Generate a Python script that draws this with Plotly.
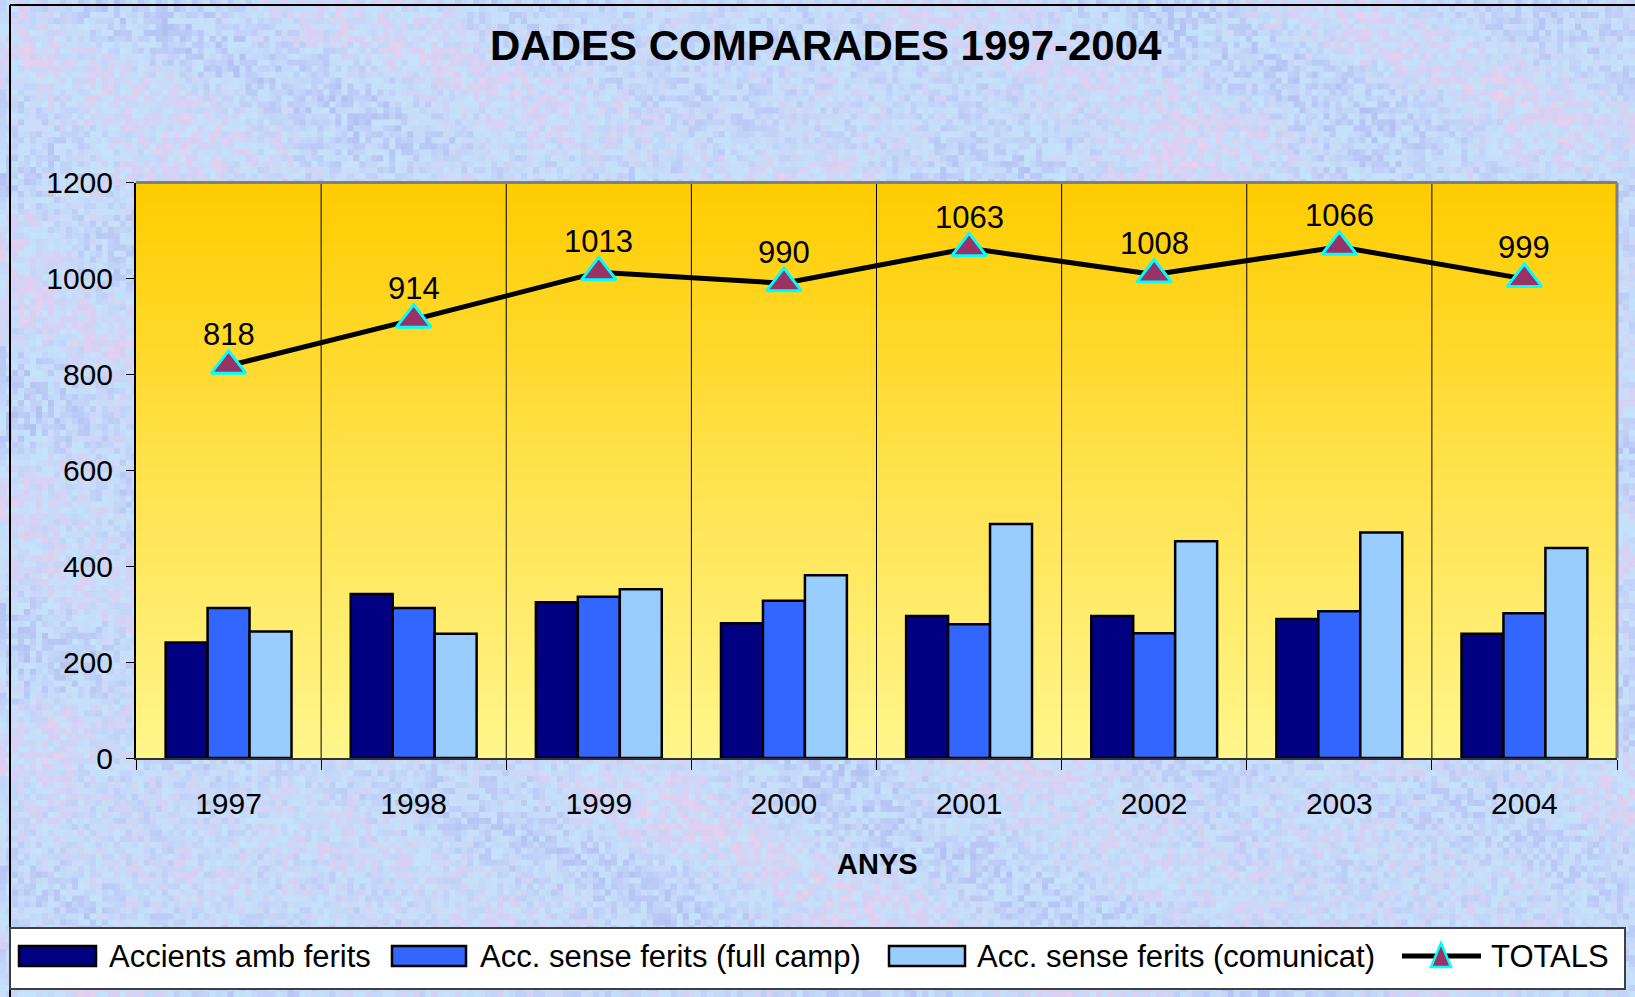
import base64
import struct
import zlib

import numpy as np
import plotly.graph_objects as go

# data
years = ["1997", "1998", "1999", "2000", "2001", "2002", "2003", "2004"]
amb_ferits = [241, 342, 325, 281, 296, 296, 290, 259]
sense_full_camp = [313, 313, 336, 328, 279, 260, 306, 302]
sense_comunicat = [264, 259, 352, 381, 488, 452, 470, 438]
totals = [818, 914, 1013, 990, 1063, 1008, 1066, 999]
y_ticks = [0, 200, 400, 600, 800, 1000, 1200]

series_names = ["Accients amb ferits", "Acc. sense ferits (full camp)",
                "Acc. sense ferits (comunicat)", "TOTALS"]
bar_colors = ["#000080", "#3366FF", "#99CCFF"]

W, H = 1635, 997
FONT = "Liberation Sans, Arial, sans-serif"
Y_MAX = 1200

# plot area in window pixels
PL, PR, PT, PB = 136, 1617, 182.5, 758


def px(x):
    return x / W


def py(y):
    return 1 - y / H


def hex_rgb(c):
    return [int(c[i:i + 2], 16) for i in (1, 3, 5)]


def palette(values, stops):
    # map values in [0, 1] to rgb through colour stops
    pts = [s for s, _ in stops]
    out = np.zeros(values.shape + (3,), dtype=np.uint8)
    for ch in range(3):
        out[..., ch] = np.interp(values, pts, [hex_rgb(c)[ch] for _, c in stops]).round()
    return out


def png_uri(rgb):
    h, w, _ = rgb.shape
    raw = b"".join(b"\x00" + rgb[r].tobytes() for r in range(h))

    def chunk(tag, data):
        return (struct.pack(">I", len(data)) + tag + data
                + struct.pack(">I", zlib.crc32(tag + data) & 0xffffffff))

    png = (b"\x89PNG\r\n\x1a\n"
           + chunk(b"IHDR", struct.pack(">IIBBBBB", w, h, 8, 2, 0, 0, 0))
           + chunk(b"IDAT", zlib.compress(raw, 9))
           + chunk(b"IEND", b""))
    return "data:image/png;base64," + base64.b64encode(png).decode()


pos = list(range(len(years)))

# textured paper background (decoration only)
cell = 6
nx, ny = 273, 167
ii, jj = np.meshgrid(np.arange(nx), np.arange(ny))
grain = ((ii * 73856093) ^ (jj * 19349663)) % 1009 / 1008
blotch = 0.5 + 0.25 * np.sin(ii / 9.0 + 2 * np.cos(jj / 7.0)) + 0.25 * np.sin(jj / 6.0 - ii / 13.0)
texture = 0.6 * grain + 0.4 * blotch
tex_rgb = palette(texture, [(0, "#B2C0F2"), (0.3, "#C2D2F8"), (0.55, "#C4E4FB"),
                            (0.78, "#D6D0F4"), (1, "#EAD0EE")])
tex_rgb = np.repeat(np.repeat(tex_rgb, cell, axis=0), cell, axis=1)

# plot area gradient, top to bottom
grad = palette(np.linspace(0, 1, 200).reshape(200, 1),
               [(0, "#FFCC00"), (0.5, "#FFE24C"), (1, "#FFF68C")])

fig = go.Figure()

for name, vals, col in zip(series_names[:3], [amb_ferits, sense_full_camp, sense_comunicat], bar_colors):
    fig.add_trace(go.Bar(
        x=pos, y=vals, name=name,
        marker=dict(color=col, line=dict(color="black", width=2.5)),
        showlegend=False,
    ))

fig.add_trace(go.Scatter(
    x=pos, y=totals, name=series_names[3],
    mode="lines+markers",
    line=dict(color="black", width=5),
    marker=dict(symbol="triangle-up", size=30, color="#993366",
                line=dict(color="#00FFFF", width=3)),
    showlegend=False,
))

images = [
    dict(source=png_uri(tex_rgb), xref="paper", yref="paper", x=0, y=1,
         sizex=1, sizey=1, xanchor="left", yanchor="top", sizing="stretch", layer="below"),
    dict(source=png_uri(grad), xref="paper", yref="paper", x=px(PL), y=py(PT),
         sizex=(PR - PL) / W, sizey=(PB - PT) / H, xanchor="left", yanchor="top",
         sizing="stretch", layer="below"),
]

shapes = []
# category separators
for k in range(len(years) - 1):
    shapes.append(dict(type="line", xref="x", yref="y domain", x0=k + 0.5, x1=k + 0.5,
                       y0=0, y1=1, line=dict(color="black", width=1), layer="above"))
# plot border top/right
shapes.append(dict(type="line", xref="paper", yref="paper", x0=px(PL), x1=px(PR),
                   y0=py(PT), y1=py(PT), line=dict(color="#808080", width=3)))
shapes.append(dict(type="line", xref="paper", yref="paper", x0=px(PR), x1=px(PR),
                   y0=py(PT), y1=py(PB), line=dict(color="#808080", width=3)))
# outer frame
shapes.append(dict(type="line", xref="paper", yref="paper", x0=px(10), x1=px(10),
                   y0=0, y1=py(5), line=dict(color="black", width=2)))
shapes.append(dict(type="line", xref="paper", yref="paper", x0=px(10), x1=1,
                   y0=py(5), y1=py(5), line=dict(color="black", width=2)))
# legend box
shapes.append(dict(type="rect", xref="paper", yref="paper", x0=px(10), x1=px(1625),
                   y0=py(989), y1=py(928), fillcolor="white",
                   line=dict(color="#404040", width=2), layer="above"))
legend_rects = [(19, 96), (392, 466), (889, 965)]
for (a, b), col in zip(legend_rects, bar_colors):
    shapes.append(dict(type="rect", xref="paper", yref="paper", x0=px(a), x1=px(b),
                       y0=py(966), y1=py(946), fillcolor=col,
                       line=dict(color="black", width=2.5), layer="above"))
shapes.append(dict(type="line", xref="paper", yref="paper", x0=px(1402), x1=px(1481),
                   y0=py(956), y1=py(956), line=dict(color="black", width=5), layer="above"))
shapes.append(dict(type="path", xref="paper", yref="paper", xsizemode="pixel", ysizemode="pixel",
                   xanchor=px(1441), yanchor=py(956), path="M-10,-11 L10,-11 L0,13 Z",
                   fillcolor="#993366", line=dict(color="#00FFFF", width=2.5), layer="above"))

annotations = [
    dict(text="<b>DADES COMPARADES 1997-2004</b>", xref="paper", yref="paper",
         x=px(826), y=py(45), xanchor="center", yanchor="middle", showarrow=False,
         font=dict(size=42, color="black", family=FONT)),
    dict(text="<b>ANYS</b>", xref="paper", yref="paper", x=px(877), y=py(864),
         xanchor="center", yanchor="middle", showarrow=False,
         font=dict(size=29, color="black", family=FONT)),
]
# value labels above the triangles
for p, v in zip(pos, totals):
    annotations.append(dict(text=str(v), xref="x", yref="y", x=p, y=v,
                            xanchor="center", yanchor="middle", yshift=31, showarrow=False,
                            font=dict(size=31, color="black", family=FONT)))
legend_text_x = [107, 478, 975, 1489]
for name, x0 in zip(series_names, legend_text_x):
    annotations.append(dict(text=name, xref="paper", yref="paper", x=px(x0), y=py(956),
                            xanchor="left", yanchor="middle", showarrow=False,
                            font=dict(size=31, color="black", family=FONT)))

fig.update_layout(
    width=W, height=H, autosize=False,
    margin=dict(l=0, r=0, t=0, b=0, pad=0, autoexpand=False),
    paper_bgcolor="#C8D4F4",
    plot_bgcolor="rgba(0,0,0,0)",
    showlegend=False,
    barmode="group", bargap=0.32, bargroupgap=0,
    font=dict(family=FONT, color="black"),
    xaxis=dict(domain=[px(PL), px(PR)], range=[-0.5, 7.5], automargin=False,
               tickmode="array", tickvals=pos, ticktext=years, ticks="",
               tickfont=dict(size=30), ticklabelstandoff=18,
               showline=True, linecolor="#303030", linewidth=2, showgrid=False, zeroline=False,
               minor=dict(tickvals=[k - 0.5 for k in range(len(years) + 1)], ticks="outside",
                          ticklen=10, tickcolor="black", tickwidth=1, showgrid=False)),
    yaxis=dict(domain=[py(PB), py(PT)], range=[0, Y_MAX], automargin=False,
               tickmode="array", tickvals=y_ticks, ticks="outside", ticklen=8,
               tickcolor="black", tickfont=dict(size=30), ticklabelstandoff=7,
               showline=True, linecolor="black", linewidth=2, showgrid=False, zeroline=False),
    images=images,
    shapes=shapes,
    annotations=annotations,
)

# pin the figure to the top-left corner of the window
pin = ("document.body.style.margin='0';document.body.style.overflow='hidden';"
       "var d=document.getElementById('{plot_id}');"
       "d.style.position='fixed';d.style.left='0px';d.style.top='0px';")
fig.write_html("out.html", post_script=pin, config=dict(displayModeBar=False))
